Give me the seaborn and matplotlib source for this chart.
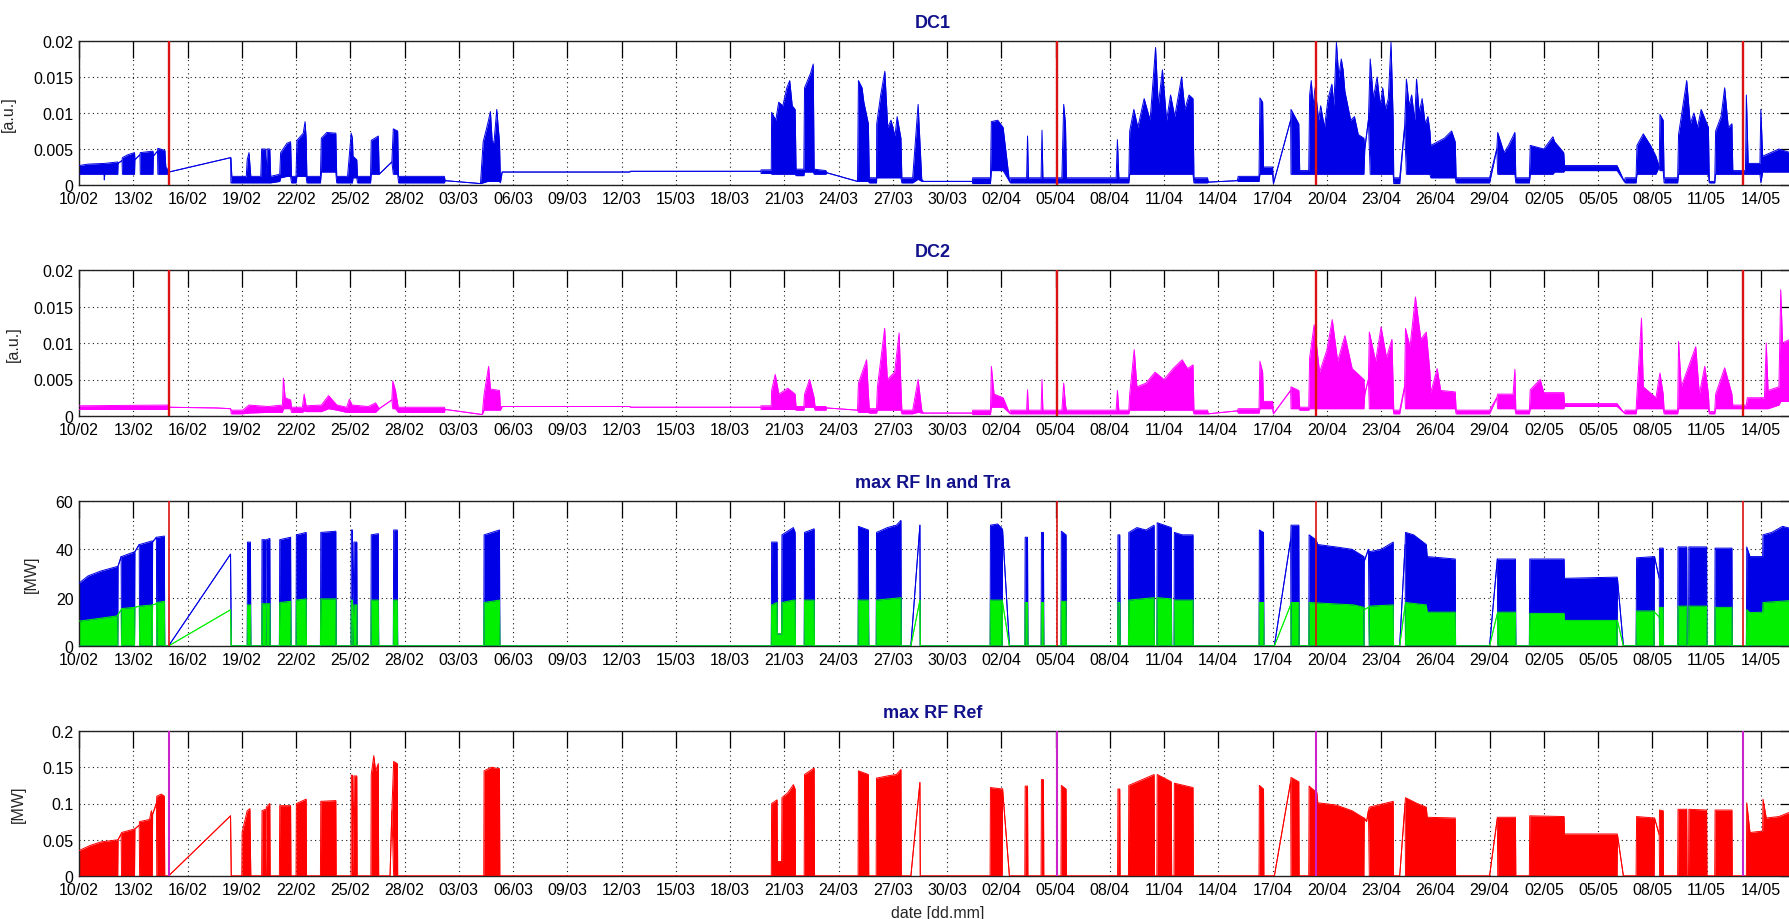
import numpy as np
import pandas as pd
import matplotlib
matplotlib.use("Agg")
import matplotlib.pyplot as plt
import matplotlib.dates as mdates
import matplotlib.ticker as mticker
import seaborn as sns

# ---------------- data (time in days after START_DATE, lower env, upper env) -------------
START_DATE = "2013-02-10"
X_SPAN_DAYS = 95
MARKER_DAYS = [4.95, 54.07, 68.42, 92.0]

TITLES = ["DC1", "DC2", "max RF In and Tra", "max RF Ref"]
YLABELS = ["[a.u.]", "[a.u.]", "[MW]", "[MW]"]
YTICKS_DC = [0, 0.005, 0.01, 0.015, 0.02]
YTICKS_RF = [0, 20, 40, 60]
YTICKS_REF = [0, 0.05, 0.1, 0.15, 0.2]
XLABEL = "date [dd.mm]"

DC1 = [
    (0.00, 0.0015, 0.0027), (0.5, 0.0015, 0.0029), (1.38, 0.0015, 0.0030), (1.40, 0.0007, 0.0030),
    (1.42, 0.0015, 0.0030), (2.14, 0.0015, 0.0032), (2.16, 0.0030, 0.0030), (2.38, 0.0034, 0.0034),
    (2.40, 0.0015, 0.0038), (2.7, 0.0015, 0.0042), (3.07, 0.0015, 0.0045), (3.09, 0.0035, 0.0035),
    (3.37, 0.0042, 0.0042), (3.39, 0.0015, 0.0045), (4.09, 0.0015, 0.0047), (4.11, 0.0040, 0.0040),
    (4.34, 0.0047, 0.0047), (4.36, 0.0015, 0.0051), (4.75, 0.0015, 0.0048), (4.80, 0.0015, 0.0025),
    (4.95, 0.0015, 0.0020), (4.97, 0.0018, 0.0018), (8.38, 0.0038, 0.0038), (8.40, 0.0003, 0.0038),
    (8.45, 0.0003, 0.0012), (9.25, 0.0003, 0.0012), (9.3, 0.0003, 0.0035), (9.4, 0.0003, 0.0045),
    (9.5, 0.0003, 0.0012), (10.05, 0.0003, 0.0012), (10.1, 0.0003, 0.0050), (10.3, 0.0003, 0.0050),
    (10.35, 0.0003, 0.0012), (10.4, 0.0003, 0.0050), (10.55, 0.0003, 0.0050), (10.6, 0.0003, 0.0012),
    (11.1, 0.0005, 0.0015), (11.15, 0.0010, 0.0045), (11.5, 0.0012, 0.0058), (11.7, 0.0012, 0.0060),
    (11.75, 0.0003, 0.0012), (12.0, 0.0003, 0.0012), (12.05, 0.0012, 0.0062), (12.4, 0.0012, 0.0072),
    (12.5, 0.0012, 0.0088), (12.56, 0.0012, 0.0065), (12.6, 0.0003, 0.0012), (13.35, 0.0003, 0.0012),
    (13.4, 0.0018, 0.0065), (13.7, 0.0018, 0.0073), (14.2, 0.0018, 0.0072), (14.25, 0.0003, 0.0012),
    (14.85, 0.0003, 0.0012), (15.05, 0.0003, 0.0072), (15.12, 0.0003, 0.0065), (15.15, 0.0010, 0.0040),
    (15.36, 0.0010, 0.0035), (15.4, 0.0003, 0.0012), (16.12, 0.0003, 0.0012), (16.16, 0.0015, 0.0062),
    (16.55, 0.0015, 0.0068), (16.6, 0.0015, 0.0015), (17.3, 0.0032, 0.0032), (17.38, 0.0015, 0.0078),
    (17.62, 0.0015, 0.0075), (17.67, 0.0003, 0.0012), (20.2, 0.0003, 0.0012), (20.25, 0.0006, 0.0006),
    (22.2, 0.0002, 0.0002), (22.35, 0.0003, 0.0060), (22.6, 0.0005, 0.0085), (22.75, 0.0005, 0.0102),
    (22.85, 0.0005, 0.0060), (22.95, 0.0005, 0.0060), (23.1, 0.0005, 0.0105), (23.25, 0.0005, 0.0060),
    (23.3, 0.0003, 0.0010), (23.4, 0.0018, 0.0018), (30.45, 0.0018, 0.0018), (30.5, 0.0019, 0.0019),
    (37.7, 0.0019, 0.0019), (37.72, 0.0016, 0.0021), (38.28, 0.0016, 0.0021), (38.3, 0.0015, 0.0101),
    (38.53, 0.0015, 0.0090), (38.69, 0.0015, 0.0115), (38.92, 0.0015, 0.0110), (39.14, 0.0015, 0.0135),
    (39.3, 0.0015, 0.0145), (39.44, 0.0015, 0.0110), (39.6, 0.0015, 0.0105), (39.65, 0.0013, 0.0022),
    (40.08, 0.0013, 0.0022), (40.12, 0.0018, 0.0135), (40.45, 0.0018, 0.0155), (40.6, 0.0018, 0.0168),
    (40.65, 0.0015, 0.0022), (41.3, 0.0015, 0.0020), (41.35, 0.0017, 0.0017), (43.05, 0.0005, 0.0005),
    (43.1, 0.0005, 0.0145), (43.3, 0.0005, 0.0135), (43.4, 0.0005, 0.0115), (43.65, 0.0005, 0.0085),
    (43.7, 0.0003, 0.0010), (44.1, 0.0003, 0.0010), (44.11, 0.0010, 0.0085), (44.33, 0.0010, 0.0125),
    (44.56, 0.0010, 0.0158), (44.72, 0.0010, 0.0080), (44.9, 0.0010, 0.0090), (45.12, 0.0010, 0.0068),
    (45.24, 0.0010, 0.0095), (45.45, 0.0010, 0.0065), (45.5, 0.0003, 0.0010), (46.1, 0.0003, 0.0010),
    (46.4, 0.0008, 0.0112), (46.6, 0.0005, 0.0008), (46.7, 0.0005, 0.0005), (49.4, 0.0005, 0.0005),
    (49.42, 0.0002, 0.0010), (50.4, 0.0002, 0.0010), (50.45, 0.0020, 0.0088), (50.8, 0.0020, 0.0090),
    (51.1, 0.0020, 0.0080), (51.45, 0.0005, 0.0005), (51.5, 0.0003, 0.0010), (52.4, 0.0003, 0.0010),
    (52.45, 0.0003, 0.0068), (52.5, 0.0003, 0.0010), (53.2, 0.0003, 0.0010), (53.25, 0.0003, 0.0076),
    (53.3, 0.0003, 0.0010), (54.35, 0.0003, 0.0010), (54.45, 0.0003, 0.0112), (54.55, 0.0003, 0.0085),
    (54.6, 0.0003, 0.0010), (57.35, 0.0003, 0.0010), (57.42, 0.0003, 0.0063), (57.5, 0.0003, 0.0010),
    (58.05, 0.0003, 0.0010), (58.1, 0.0015, 0.0075), (58.33, 0.0015, 0.0105), (58.55, 0.0015, 0.0080),
    (58.9, 0.0015, 0.0120), (59.23, 0.0015, 0.0090), (59.53, 0.0015, 0.0191), (59.68, 0.0015, 0.0110),
    (59.91, 0.0015, 0.0160), (60.14, 0.0015, 0.0090), (60.36, 0.0015, 0.0125), (60.59, 0.0015, 0.0095),
    (60.97, 0.0015, 0.0150), (61.15, 0.0015, 0.0105), (61.38, 0.0015, 0.0125), (61.6, 0.0015, 0.0120),
    (61.65, 0.0003, 0.0010), (62.4, 0.0003, 0.0010), (62.45, 0.0004, 0.0004), (64.05, 0.0006, 0.0006),
    (64.1, 0.0005, 0.0012), (65.25, 0.0005, 0.0012), (65.3, 0.0015, 0.0121), (65.45, 0.0015, 0.0115),
    (65.5, 0.0015, 0.0025), (66.0, 0.0015, 0.0025), (66.05, 0.0002, 0.0002), (67.0, 0.0090, 0.0090),
    (67.02, 0.0015, 0.0105), (67.45, 0.0015, 0.0085), (67.5, 0.0015, 0.0020), (68.0, 0.0015, 0.0020),
    (68.05, 0.0015, 0.0125), (68.14, 0.0015, 0.0145), (68.24, 0.0015, 0.0110), (68.35, 0.0015, 0.0135),
    (68.55, 0.0015, 0.0090), (68.66, 0.0015, 0.0110), (68.87, 0.0015, 0.0080), (69.07, 0.0015, 0.0120),
    (69.28, 0.0015, 0.0140), (69.39, 0.0015, 0.0110), (69.53, 0.0015, 0.0198), (69.66, 0.0015, 0.0150),
    (69.8, 0.0015, 0.0175), (69.9, 0.0015, 0.0160), (70.0, 0.0015, 0.0130), (70.16, 0.0015, 0.0110),
    (70.32, 0.0015, 0.0090), (70.53, 0.0015, 0.0095), (70.74, 0.0015, 0.0070), (71.05, 0.0015, 0.0065),
    (71.1, 0.0050, 0.0050), (71.3, 0.0090, 0.0090), (71.4, 0.0015, 0.0175), (71.57, 0.0015, 0.0120),
    (71.78, 0.0015, 0.0150), (71.95, 0.0015, 0.0110), (72.09, 0.0015, 0.0135), (72.24, 0.0015, 0.0105),
    (72.4, 0.0015, 0.0120), (72.55, 0.0015, 0.0198), (72.67, 0.0015, 0.0090), (72.7, 0.0002, 0.0010),
    (73.03, 0.0002, 0.0010), (73.3, 0.0080, 0.0080), (73.4, 0.0015, 0.0147), (73.55, 0.0015, 0.0110),
    (73.69, 0.0015, 0.0125), (73.86, 0.0015, 0.0090), (73.96, 0.0015, 0.0147), (74.11, 0.0015, 0.0100),
    (74.27, 0.0015, 0.0120), (74.44, 0.0015, 0.0085), (74.59, 0.0015, 0.0095), (74.7, 0.0015, 0.0075),
    (74.75, 0.0010, 0.0055), (75.5, 0.0010, 0.0065), (75.9, 0.0010, 0.0075), (76.1, 0.0010, 0.0060),
    (76.15, 0.0003, 0.0010), (78.0, 0.0003, 0.0010), (78.4, 0.0050, 0.0050), (78.45, 0.0015, 0.0073),
    (78.8, 0.0015, 0.0045), (79.05, 0.0015, 0.0055), (79.4, 0.0015, 0.0073), (79.45, 0.0003, 0.0010),
    (80.2, 0.0003, 0.0010), (80.25, 0.0015, 0.0055), (81.0, 0.0015, 0.0050), (81.5, 0.0015, 0.0067),
    (81.6, 0.0018, 0.0060), (82.1, 0.0018, 0.0045), (82.15, 0.0020, 0.0027), (85.05, 0.0020, 0.0027),
    (85.45, 0.0005, 0.0005), (85.5, 0.0003, 0.0010), (86.1, 0.0003, 0.0010), (86.15, 0.0015, 0.0055),
    (86.5, 0.0015, 0.0071), (86.9, 0.0015, 0.0055), (87.2, 0.0015, 0.0040), (87.38, 0.0025, 0.0025),
    (87.42, 0.0020, 0.0098), (87.6, 0.0020, 0.0090), (87.65, 0.0003, 0.0010), (88.4, 0.0003, 0.0010),
    (88.45, 0.0015, 0.0070), (88.9, 0.0015, 0.0145), (89.1, 0.0015, 0.0085), (89.3, 0.0015, 0.0100),
    (89.5, 0.0015, 0.0080), (89.7, 0.0015, 0.0105), (90.1, 0.0015, 0.0080), (90.15, 0.0003, 0.0005),
    (90.45, 0.0003, 0.0005), (90.5, 0.0015, 0.0075), (90.8, 0.0015, 0.0095), (91.0, 0.0015, 0.0135),
    (91.2, 0.0015, 0.0080), (91.4, 0.0015, 0.0085), (91.45, 0.0015, 0.0020), (92.15, 0.0015, 0.0020),
    (92.2, 0.0015, 0.0125), (92.3, 0.0015, 0.0030), (92.95, 0.0015, 0.0030), (93.0, 0.0003, 0.0105),
    (93.1, 0.0018, 0.0040), (94.0, 0.0018, 0.0050), (95.0, 0.0018, 0.0042),
]

DC2 = [
    (0.0, 0.0009, 0.0014), (4.9, 0.0009, 0.0015), (4.95, 0.0012, 0.0012), (7.6, 0.0011, 0.0011),
    (8.38, 0.0010, 0.0010), (8.42, 0.0003, 0.0008), (9.05, 0.0003, 0.0008), (9.4, 0.0004, 0.0015),
    (10.45, 0.0005, 0.0013), (11.25, 0.0005, 0.0015), (11.3, 0.0010, 0.0052), (11.4, 0.0010, 0.0025),
    (11.7, 0.0010, 0.0022), (11.75, 0.0005, 0.0012), (12.35, 0.0005, 0.0012), (12.45, 0.0007, 0.0030),
    (12.56, 0.0006, 0.0014), (13.4, 0.0006, 0.0015), (13.8, 0.0010, 0.0028), (14.26, 0.0008, 0.0015),
    (14.8, 0.0005, 0.0012), (14.95, 0.0005, 0.0023), (15.1, 0.0005, 0.0015), (16.0, 0.0005, 0.0013),
    (16.4, 0.0005, 0.0018), (16.6, 0.0010, 0.0010), (17.3, 0.0022, 0.0022), (17.35, 0.0010, 0.0048),
    (17.5, 0.0010, 0.0035), (17.65, 0.0005, 0.0012), (20.2, 0.0005, 0.0012), (20.25, 0.0009, 0.0009),
    (22.3, 0.0002, 0.0002), (22.4, 0.0008, 0.0030), (22.65, 0.0008, 0.0068), (22.75, 0.0008, 0.0037),
    (23.25, 0.0008, 0.0035), (23.3, 0.0008, 0.0012), (23.4, 0.0013, 0.0013), (30.45, 0.0013, 0.0013),
    (30.5, 0.0012, 0.0012), (37.7, 0.0012, 0.0012), (37.72, 0.0009, 0.0014), (38.28, 0.0009, 0.0014),
    (38.3, 0.0009, 0.0035), (38.5, 0.0009, 0.0057), (38.7, 0.0009, 0.0030), (39.2, 0.0009, 0.0038),
    (39.6, 0.0009, 0.0030), (39.65, 0.0008, 0.0013), (40.08, 0.0008, 0.0013), (40.12, 0.0012, 0.0030),
    (40.4, 0.0012, 0.0050), (40.65, 0.0012, 0.0025), (40.7, 0.0008, 0.0013), (41.3, 0.0008, 0.0013),
    (41.35, 0.0011, 0.0011), (43.05, 0.0008, 0.0008), (43.1, 0.0005, 0.0045), (43.55, 0.0005, 0.0077),
    (43.65, 0.0005, 0.0030), (43.7, 0.0004, 0.0010), (44.1, 0.0004, 0.0010), (44.15, 0.0008, 0.0040),
    (44.55, 0.0008, 0.0120), (44.7, 0.0008, 0.0050), (45.1, 0.0008, 0.0060), (45.35, 0.0008, 0.0114),
    (45.45, 0.0008, 0.0040), (45.5, 0.0003, 0.0008), (46.1, 0.0003, 0.0008), (46.4, 0.0005, 0.0050),
    (46.6, 0.0004, 0.0008), (46.7, 0.0004, 0.0004), (49.4, 0.0004, 0.0004), (49.42, 0.0002, 0.0008),
    (50.4, 0.0002, 0.0008), (50.45, 0.0012, 0.0068), (50.6, 0.0012, 0.0030), (51.1, 0.0012, 0.0025),
    (51.45, 0.0004, 0.0004), (51.5, 0.0003, 0.0008), (52.4, 0.0003, 0.0008), (52.45, 0.0003, 0.0036),
    (52.5, 0.0003, 0.0008), (53.2, 0.0003, 0.0008), (53.25, 0.0003, 0.0050), (53.3, 0.0003, 0.0008),
    (54.35, 0.0003, 0.0008), (54.45, 0.0003, 0.0045), (54.55, 0.0003, 0.0015), (54.6, 0.0003, 0.0008),
    (57.35, 0.0003, 0.0008), (57.42, 0.0003, 0.0035), (57.5, 0.0003, 0.0008), (58.05, 0.0003, 0.0008),
    (58.1, 0.0008, 0.0030), (58.35, 0.0008, 0.0091), (58.5, 0.0008, 0.0040), (59.0, 0.0008, 0.0045),
    (59.5, 0.0008, 0.0060), (60.0, 0.0008, 0.0050), (60.5, 0.0008, 0.0065), (61.0, 0.0008, 0.0077),
    (61.3, 0.0008, 0.0065), (61.6, 0.0008, 0.0070), (61.65, 0.0003, 0.0008), (62.4, 0.0003, 0.0008),
    (62.45, 0.0003, 0.0003), (64.05, 0.0007, 0.0007), (64.1, 0.0004, 0.0010), (65.25, 0.0004, 0.0010),
    (65.3, 0.0010, 0.0075), (65.45, 0.0010, 0.0060), (65.5, 0.0010, 0.0020), (66.0, 0.0010, 0.0020),
    (66.05, 0.0003, 0.0003), (67.0, 0.0035, 0.0035), (67.02, 0.0010, 0.0040), (67.45, 0.0010, 0.0035),
    (67.5, 0.0008, 0.0012), (68.0, 0.0008, 0.0012), (68.05, 0.0010, 0.0080), (68.3, 0.0010, 0.0125),
    (68.6, 0.0010, 0.0060), (69.0, 0.0010, 0.0090), (69.3, 0.0010, 0.0132), (69.6, 0.0010, 0.0075),
    (70.0, 0.0010, 0.0110), (70.4, 0.0010, 0.0065), (71.05, 0.0010, 0.0050), (71.1, 0.0030, 0.0030),
    (71.3, 0.0050, 0.0050), (71.35, 0.0010, 0.0115), (71.7, 0.0010, 0.0075), (72.0, 0.0010, 0.0122),
    (72.3, 0.0010, 0.0080), (72.6, 0.0010, 0.0105), (72.67, 0.0010, 0.0040), (72.7, 0.0003, 0.0008),
    (73.03, 0.0003, 0.0008), (73.3, 0.0040, 0.0040), (73.35, 0.0010, 0.0120), (73.6, 0.0010, 0.0095),
    (73.9, 0.0010, 0.0163), (74.2, 0.0010, 0.0105), (74.5, 0.0010, 0.0115), (74.7, 0.0010, 0.0060),
    (74.75, 0.0010, 0.0032), (75.1, 0.0010, 0.0065), (75.3, 0.0010, 0.0035), (76.1, 0.0010, 0.0033),
    (76.15, 0.0003, 0.0008), (78.0, 0.0003, 0.0008), (78.4, 0.0025, 0.0025), (78.45, 0.0010, 0.0030),
    (79.3, 0.0010, 0.0030), (79.4, 0.0010, 0.0064), (79.45, 0.0003, 0.0008), (80.2, 0.0003, 0.0008),
    (80.25, 0.0010, 0.0036), (80.8, 0.0010, 0.0050), (81.0, 0.0010, 0.0032), (82.1, 0.0010, 0.0032),
    (82.15, 0.0013, 0.0017), (85.05, 0.0013, 0.0017), (85.45, 0.0004, 0.0004), (85.5, 0.0003, 0.0008),
    (86.1, 0.0003, 0.0008), (86.15, 0.0010, 0.0030), (86.4, 0.0010, 0.0134), (86.5, 0.0010, 0.0040),
    (87.2, 0.0010, 0.0025), (87.42, 0.0010, 0.0059), (87.6, 0.0010, 0.0030), (87.65, 0.0003, 0.0008),
    (88.4, 0.0003, 0.0008), (88.45, 0.0010, 0.0102), (88.6, 0.0010, 0.0040), (89.4, 0.0010, 0.0095),
    (89.6, 0.0010, 0.0030), (89.9, 0.0010, 0.0068), (90.1, 0.0010, 0.0030), (90.15, 0.0003, 0.0006),
    (90.45, 0.0003, 0.0006), (90.5, 0.0010, 0.0030), (91.0, 0.0010, 0.0066), (91.4, 0.0010, 0.0030),
    (91.45, 0.0010, 0.0015), (92.2, 0.0010, 0.0015), (92.25, 0.0010, 0.0025), (93.2, 0.0010, 0.0025),
    (93.3, 0.0010, 0.0100), (93.4, 0.0010, 0.0035), (94.0, 0.0015, 0.0040), (94.1, 0.0020, 0.0173),
    (94.2, 0.0020, 0.0100), (95.0, 0.0020, 0.0110),
]

RF_IN = [
    (0.0, 0, 26), (0.5, 0, 29), (1.2, 0, 31), (2.14, 0, 33), (2.16, 33, 33), (2.33, 37, 37),
    (2.35, 0, 37), (3.07, 0, 39), (3.09, 39, 39), (3.33, 42, 42), (3.35, 0, 42), (4.05, 0, 43.5),
    (4.07, 43, 43), (4.28, 45, 45), (4.3, 0, 45), (4.72, 0, 45.5), (4.74, 0, 0), (4.95, 0, 0),
    (8.38, 38, 38), (8.42, 0, 0), (9.3, 0, 0), (9.32, 0, 43), (9.48, 0, 43), (9.5, 0, 0),
    (10.1, 0, 0), (10.12, 0, 44), (10.3, 0, 44), (10.32, 0, 0), (10.36, 0, 44), (10.55, 0, 44.5),
    (10.57, 0, 0), (11.08, 0, 0), (11.1, 0, 44), (11.7, 0, 45), (11.72, 0, 0), (12.0, 0, 0),
    (12.02, 0, 46), (12.56, 0, 47), (12.58, 0, 0), (13.35, 0, 0), (13.37, 0, 47), (14.2, 0, 47.5),
    (14.22, 0, 0), (15.04, 0, 0), (15.06, 0, 48), (15.12, 0, 48), (15.14, 0, 0), (15.2, 0, 43),
    (15.36, 0, 43), (15.38, 0, 0), (16.14, 0, 0), (16.16, 0, 46), (16.55, 0, 46.5), (16.57, 0, 0),
    (17.38, 0, 0), (17.4, 0, 48), (17.6, 0, 48), (17.62, 0, 0), (22.38, 0, 0), (22.4, 0, 46),
    (23.25, 0, 48), (23.27, 0, 0), (38.28, 0, 0), (38.3, 0, 43), (38.6, 0, 43), (38.62, 0, 5),
    (38.85, 0, 5), (38.87, 0, 46), (39.5, 0, 49), (39.6, 0, 47), (39.62, 0, 0), (40.1, 0, 0),
    (40.12, 0, 47), (40.65, 0, 48.5), (40.67, 0, 0), (43.08, 0, 0), (43.1, 0, 49.5), (43.65, 0, 48),
    (43.67, 0, 0), (44.08, 0, 0), (44.1, 0, 47), (44.7, 0, 49), (45.2, 0, 50), (45.45, 0, 52),
    (45.47, 0, 0), (46.0, 0, 0), (46.5, 50, 50), (46.52, 0, 0), (50.38, 0, 0), (50.4, 0, 50),
    (50.8, 0, 50.5), (51.05, 0, 48.5), (51.07, 48, 48), (51.45, 0, 0), (52.3, 0, 0), (52.32, 0, 45),
    (52.45, 0, 45), (52.47, 0, 0), (53.2, 0, 0), (53.22, 0, 47), (53.33, 0, 47), (53.35, 0, 0),
    (54.3, 0, 0), (54.32, 0, 47.5), (54.58, 0, 46), (54.6, 0, 0), (57.43, 0, 0), (57.45, 0, 46),
    (57.55, 0, 46), (57.57, 0, 0), (58.03, 0, 0), (58.05, 0, 47), (58.5, 0, 49), (59.0, 0, 48),
    (59.45, 0, 50), (59.47, 0, 0), (59.6, 0, 0), (59.62, 0, 51), (60.4, 0, 49), (60.42, 0, 0),
    (60.55, 0, 0), (60.57, 0, 47), (61.0, 0, 46), (61.6, 0, 46), (61.62, 0, 0), (65.25, 0, 0),
    (65.27, 0, 48), (65.5, 0, 47), (65.52, 0, 0), (66.1, 0, 0), (67.0, 44, 44), (67.02, 0, 50),
    (67.45, 0, 50), (67.47, 0, 0), (68.0, 0, 0), (68.02, 0, 46), (68.4, 0, 44), (68.5, 0, 42),
    (69.5, 0, 41), (70.4, 0, 40), (71.05, 0, 37), (71.07, 35, 35), (71.3, 40, 40), (71.35, 0, 39),
    (72.0, 0, 40), (72.67, 0, 43), (72.69, 0, 0), (73.03, 0, 0), (73.33, 42, 42), (73.35, 0, 47),
    (73.8, 0, 46), (74.5, 0, 42), (74.55, 0, 37), (76.1, 0, 36), (76.12, 0, 0), (78.0, 0, 0),
    (78.43, 36, 36), (78.45, 0, 36), (79.43, 0, 36), (79.45, 0, 0), (80.2, 0, 0), (80.22, 0, 36),
    (82.12, 0, 36), (82.14, 0, 28), (85.05, 0, 28.5), (85.07, 28, 28), (85.4, 0, 0), (86.1, 0, 0),
    (86.13, 0, 36.5), (87.1, 0, 37), (87.12, 37, 37), (87.38, 28, 28), (87.4, 0, 40.5), (87.6, 0, 40.5),
    (87.62, 0, 0), (88.4, 0, 0), (88.42, 0, 41), (88.9, 0, 41), (88.92, 0, 0), (89.0, 0, 0),
    (89.02, 0, 41), (90.0, 0, 41), (90.02, 0, 0), (90.45, 0, 0), (90.47, 0, 40.5), (91.4, 0, 40.5),
    (91.42, 0, 0), (92.2, 0, 0), (92.22, 0, 41), (92.4, 0, 37), (93.1, 0, 37), (93.12, 0, 46),
    (93.6, 0, 47), (94.2, 0, 49.5), (95.0, 0, 48),
]

RF_TRA = [
    (0.0, 0, 10.3), (1.2, 0, 11.5), (2.14, 0, 12.5), (2.16, 13, 13), (2.33, 15, 15), (2.35, 0, 15.5),
    (3.07, 0, 16), (3.09, 16, 16), (3.33, 16.5, 16.5), (3.35, 0, 16.5), (4.05, 0, 17), (4.07, 17, 17),
    (4.28, 17.5, 17.5), (4.3, 0, 18), (4.72, 0, 18.5), (4.74, 0, 0), (4.95, 0, 0), (8.38, 15, 15),
    (8.42, 0, 0), (9.3, 0, 0), (9.32, 0, 17), (9.48, 0, 17), (9.5, 0, 0), (10.1, 0, 0), (10.12, 0, 17.5),
    (10.3, 0, 17.5), (10.32, 0, 0), (10.36, 0, 17.5), (10.55, 0, 17.5), (10.57, 0, 0), (11.08, 0, 0),
    (11.1, 0, 18), (11.7, 0, 18.5), (11.72, 0, 0), (12.0, 0, 0), (12.02, 0, 19), (12.56, 0, 19.5),
    (12.58, 0, 0), (13.35, 0, 0), (13.37, 0, 19.5), (14.2, 0, 19.5), (14.22, 0, 0), (15.04, 0, 0),
    (15.06, 0, 19), (15.12, 0, 19), (15.14, 0, 0), (15.2, 0, 17), (15.36, 0, 17), (15.38, 0, 0),
    (16.14, 0, 0), (16.16, 0, 19), (16.55, 0, 19), (16.57, 0, 0), (17.38, 0, 0), (17.4, 0, 19),
    (17.6, 0, 19), (17.62, 0, 0), (22.38, 0, 0), (22.4, 0, 18), (23.25, 0, 19), (23.27, 0, 0),
    (38.28, 0, 0), (38.3, 0, 17), (38.6, 0, 18), (38.62, 0, 5), (38.85, 0, 5), (38.87, 0, 18),
    (39.5, 0, 19), (39.6, 0, 19), (39.62, 0, 0), (40.1, 0, 0), (40.12, 0, 19), (40.65, 0, 19),
    (40.67, 0, 0), (43.08, 0, 0), (43.1, 0, 19), (43.65, 0, 19), (43.67, 0, 0), (44.08, 0, 0),
    (44.1, 0, 19), (45.45, 0, 20), (45.47, 0, 0), (46.0, 0, 0), (46.5, 19, 19), (46.52, 0, 0),
    (50.38, 0, 0), (50.4, 0, 19), (51.05, 0, 19), (51.07, 18, 18), (51.45, 0, 0), (52.3, 0, 0),
    (52.32, 0, 18), (52.45, 0, 18), (52.47, 0, 0), (53.2, 0, 0), (53.22, 0, 18), (53.33, 0, 18),
    (53.35, 0, 0), (54.3, 0, 0), (54.32, 0, 18.5), (54.58, 0, 18.5), (54.6, 0, 0), (57.43, 0, 0),
    (57.45, 0, 18), (57.55, 0, 18), (57.57, 0, 0), (58.03, 0, 0), (58.05, 0, 19), (59.45, 0, 20),
    (59.47, 0, 0), (59.6, 0, 0), (59.62, 0, 20), (60.4, 0, 19.5), (60.42, 0, 0), (60.55, 0, 0),
    (60.57, 0, 19), (61.6, 0, 19), (61.62, 0, 0), (65.25, 0, 0), (65.27, 0, 18), (65.5, 0, 18),
    (65.52, 0, 0), (66.1, 0, 0), (67.0, 17, 17), (67.02, 0, 18), (67.45, 0, 18), (67.47, 0, 0),
    (68.0, 0, 0), (68.02, 0, 18), (70.5, 0, 17), (71.05, 0, 16), (71.07, 15, 15), (71.3, 16, 16),
    (71.35, 0, 16.5), (72.67, 0, 17), (72.69, 0, 0), (73.03, 0, 0), (73.33, 17, 17), (73.35, 0, 18),
    (74.5, 0, 17), (74.55, 0, 14), (76.1, 0, 14), (76.12, 0, 0), (78.0, 0, 0), (78.43, 13.5, 13.5),
    (78.45, 0, 14), (79.43, 0, 14), (79.45, 0, 0), (80.2, 0, 0), (80.22, 0, 13.5), (82.12, 0, 13.5),
    (82.14, 0, 10.6), (85.05, 0, 10.6), (85.07, 10.5, 10.5), (85.4, 0, 0), (86.1, 0, 0),
    (86.13, 0, 14.5), (87.1, 0, 14.5), (87.12, 14, 14), (87.38, 12, 12), (87.4, 0, 16), (87.6, 0, 16),
    (87.62, 0, 0), (88.4, 0, 0), (88.42, 0, 16.5), (88.9, 0, 16.5), (88.92, 0, 0), (89.0, 0, 0),
    (89.02, 0, 16.5), (90.0, 0, 16.5), (90.02, 0, 0), (90.45, 0, 0), (90.47, 0, 16), (91.4, 0, 16),
    (91.42, 0, 0), (92.2, 0, 0), (92.22, 0, 15), (92.4, 0, 13.8), (93.1, 0, 14), (93.12, 0, 18),
    (95.0, 0, 19),
]

RF_REF = [
    (0.0, 0, 0.035), (0.6, 0, 0.042), (1.2, 0, 0.047), (2.14, 0, 0.050), (2.16, 0.050, 0.050),
    (2.33, 0.058, 0.058), (2.35, 0, 0.060), (3.07, 0, 0.065), (3.09, 0.065, 0.065), (3.33, 0.070, 0.070),
    (3.35, 0, 0.075), (3.9, 0, 0.078), (4.0, 0, 0.090), (4.05, 0, 0.085), (4.07, 0.085, 0.085),
    (4.28, 0.100, 0.100), (4.3, 0, 0.110), (4.55, 0, 0.113), (4.72, 0, 0.110), (4.74, 0, 0),
    (4.95, 0, 0), (8.38, 0.083, 0.083), (8.42, 0, 0), (9.0, 0, 0), (9.02, 0, 0.060), (9.3, 0, 0.090),
    (9.45, 0, 0.093), (9.5, 0, 0), (10.1, 0, 0), (10.12, 0, 0.090), (10.3, 0, 0.092), (10.32, 0, 0),
    (10.36, 0, 0.095), (10.55, 0, 0.100), (10.57, 0, 0), (11.08, 0, 0), (11.1, 0, 0.097),
    (11.7, 0, 0.097), (11.72, 0, 0), (12.0, 0, 0), (12.02, 0, 0.100), (12.56, 0, 0.106), (12.58, 0, 0),
    (13.35, 0, 0), (13.37, 0, 0.103), (14.2, 0, 0.104), (14.22, 0, 0), (15.04, 0, 0), (15.06, 0, 0.139),
    (15.12, 0, 0.139), (15.14, 0, 0), (15.2, 0, 0.138), (15.36, 0, 0.138), (15.38, 0, 0),
    (16.14, 0, 0), (16.16, 0, 0.140), (16.3, 0, 0.166), (16.4, 0, 0.145), (16.55, 0, 0.155),
    (16.57, 0, 0), (17.2, 0, 0), (17.3, 0.090, 0.090), (17.4, 0, 0.158), (17.6, 0, 0.155),
    (17.62, 0, 0), (22.38, 0, 0), (22.4, 0, 0.145), (22.8, 0, 0.150), (23.25, 0, 0.148), (23.27, 0, 0),
    (38.28, 0, 0), (38.3, 0, 0.100), (38.6, 0, 0.105), (38.62, 0, 0.020), (38.85, 0, 0.020),
    (38.87, 0, 0.108), (39.2, 0, 0.115), (39.5, 0, 0.126), (39.6, 0, 0.120), (39.62, 0, 0),
    (40.1, 0, 0), (40.12, 0, 0.140), (40.65, 0, 0.149), (40.67, 0, 0), (43.08, 0, 0), (43.1, 0, 0.145),
    (43.65, 0, 0.140), (43.67, 0, 0), (44.08, 0, 0), (44.1, 0, 0.135), (44.7, 0, 0.138),
    (45.2, 0, 0.140), (45.45, 0, 0.147), (45.47, 0, 0), (46.0, 0, 0), (46.5, 0.129, 0.129),
    (46.52, 0, 0), (50.38, 0, 0), (50.4, 0, 0.122), (51.05, 0, 0.120), (51.07, 0.120, 0.120),
    (51.45, 0, 0), (52.3, 0, 0), (52.32, 0, 0.124), (52.45, 0, 0.124), (52.47, 0, 0), (53.2, 0, 0),
    (53.22, 0, 0.133), (53.33, 0, 0.133), (53.35, 0, 0), (54.3, 0, 0), (54.32, 0, 0.125),
    (54.58, 0, 0.120), (54.6, 0, 0), (57.43, 0, 0), (57.45, 0, 0.120), (57.55, 0, 0.120),
    (57.57, 0, 0), (58.03, 0, 0), (58.05, 0, 0.125), (59.45, 0, 0.140), (59.47, 0, 0), (59.6, 0, 0),
    (59.62, 0, 0.140), (60.4, 0, 0.130), (60.42, 0, 0), (60.55, 0, 0), (60.57, 0, 0.128),
    (61.6, 0, 0.122), (61.62, 0, 0), (65.25, 0, 0), (65.27, 0, 0.125), (65.5, 0, 0.120),
    (65.52, 0, 0), (66.1, 0, 0), (67.0, 0.130, 0.130), (67.02, 0, 0.136), (67.45, 0, 0.130),
    (67.47, 0, 0), (68.0, 0, 0), (68.02, 0, 0.124), (68.45, 0, 0.115), (68.5, 0, 0.101),
    (69.5, 0, 0.098), (70.4, 0, 0.090), (71.05, 0, 0.080), (71.07, 0.080, 0.080), (71.2, 0.075, 0.075),
    (71.3, 0.090, 0.090), (71.35, 0, 0.095), (72.67, 0, 0.103), (72.69, 0, 0), (73.03, 0, 0),
    (73.33, 0.100, 0.100), (73.35, 0, 0.108), (74.0, 0, 0.100), (74.5, 0, 0.095), (74.55, 0, 0.081),
    (76.1, 0, 0.080), (76.12, 0, 0), (78.0, 0, 0), (78.43, 0.080, 0.080), (78.45, 0, 0.081),
    (79.43, 0, 0.081), (79.45, 0, 0), (80.2, 0, 0), (80.22, 0, 0.083), (82.12, 0, 0.082),
    (82.14, 0, 0.058), (85.05, 0, 0.058), (85.07, 0.057, 0.057), (85.4, 0, 0), (86.1, 0, 0),
    (86.13, 0, 0.082), (87.1, 0, 0.080), (87.12, 0.080, 0.080), (87.38, 0.057, 0.057),
    (87.4, 0, 0.091), (87.6, 0, 0.090), (87.62, 0, 0), (88.4, 0, 0), (88.42, 0, 0.092),
    (88.9, 0, 0.092), (88.92, 0, 0), (89.0, 0, 0), (89.02, 0, 0.092), (90.0, 0, 0.091), (90.02, 0, 0),
    (90.45, 0, 0), (90.47, 0, 0.091), (91.4, 0, 0.091), (91.42, 0, 0), (92.2, 0, 0), (92.22, 0, 0.101),
    (92.4, 0, 0.060), (93.1, 0, 0.062), (93.12, 0, 0.106), (93.3, 0, 0.080), (94.0, 0, 0.082),
    (95.0, 0, 0.092),
]

# ---------------- styling -------------
sns.set_style("white")
plt.rcParams["font.family"] = ["Liberation Sans", "DejaVu Sans"]
plt.rcParams["axes.linewidth"] = 1.0

BLUE = "#0000e6"
MAGENTA = "#ff00ff"
GREEN = "#00f000"
RED = "#ff0000"
VRED = "#dd1111"
VMAG = "#cc22cc"
TITLE_COLOR = "#12128c"

W, H = 1789, 920
fig = plt.figure(figsize=(W / 100, H / 100), dpi=100)

base = mdates.date2num(pd.Timestamp(START_DATE))

# axes rectangles in pixels: (top, bottom)
PANEL_PX = [(42, 186), (271, 417), (502, 647), (732, 877)]
LEFT_PX, RIGHT_PX = 79, 1797


def to_frame(rows):
    df = pd.DataFrame(rows, columns=["t", "lo", "hi"])
    df["x"] = base + df["t"]
    return df


def draw_band(ax, rows, color, lw=0.7):
    df = to_frame(rows)
    ax.fill_between(df["x"], df["lo"], df["hi"], color=color, lw=0, zorder=2)
    sns.lineplot(data=df, x="x", y="hi", color=color, lw=lw, sort=False,
                 estimator=None, ax=ax, zorder=3)
    sns.lineplot(data=df, x="x", y="lo", color=color, lw=lw, sort=False,
                 estimator=None, ax=ax, zorder=3)


axes = []
for i, (top, bot) in enumerate(PANEL_PX):
    ax = fig.add_axes([LEFT_PX / W, 1 - bot / H, (RIGHT_PX - LEFT_PX) / W, (bot - top) / H])
    axes.append(ax)

series_spec = [
    [(DC1, BLUE)],
    [(DC2, MAGENTA)],
    [(RF_IN, BLUE), (RF_TRA, GREEN)],
    [(RF_REF, RED)],
]
yticks_spec = [YTICKS_DC, YTICKS_DC, YTICKS_RF, YTICKS_REF]
vline_colors = [VRED, VRED, VRED, VMAG]
vline_widths = [1.7, 1.7, 1.2, 1.5]
ylabel_x = [-0.037, -0.034, -0.0235, -0.031]

xticks = base + np.arange(0, X_SPAN_DAYS, 3)

for i, ax in enumerate(axes):
    for rows, col in series_spec[i]:
        draw_band(ax, rows, col)
    for d in MARKER_DAYS:
        ax.axvline(base + d, color=vline_colors[i], lw=vline_widths[i], zorder=5)
    yt = yticks_spec[i]
    ax.set_ylim(yt[0], yt[-1])
    ax.set_xlim(base, base + X_SPAN_DAYS)
    ax.set_yticks(yt)
    ax.yaxis.set_major_formatter(mticker.FuncFormatter(lambda v, p: "%g" % v))
    ax.set_xticks(xticks)
    ax.xaxis.set_major_formatter(mdates.DateFormatter("%d/%m"))
    ax.tick_params(direction="in", length=12, width=0.9, top=True, right=True,
                   labelsize=11.5, pad=4, colors="black")
    ax.grid(True, color="black", linestyle=(0, (1, 3)), linewidth=0.8, alpha=0.9)
    ax.set_axisbelow(True)
    for s in ax.spines.values():
        s.set_color("#202020")
        s.set_linewidth(1.0)
    ax.set_ylabel(YLABELS[i], fontsize=11.5)
    ax.yaxis.set_label_coords(ylabel_x[i], 0.5)
    ax.set_xlabel("")
    ax.set_title(TITLES[i], fontsize=13, fontweight="bold", color=TITLE_COLOR,
                 x=0.497, pad=10)

axes[-1].set_xlabel(XLABEL, fontsize=11.5)
axes[-1].xaxis.set_label_coords(0.5, -0.20)

fig.savefig("out.png", dpi=100)
